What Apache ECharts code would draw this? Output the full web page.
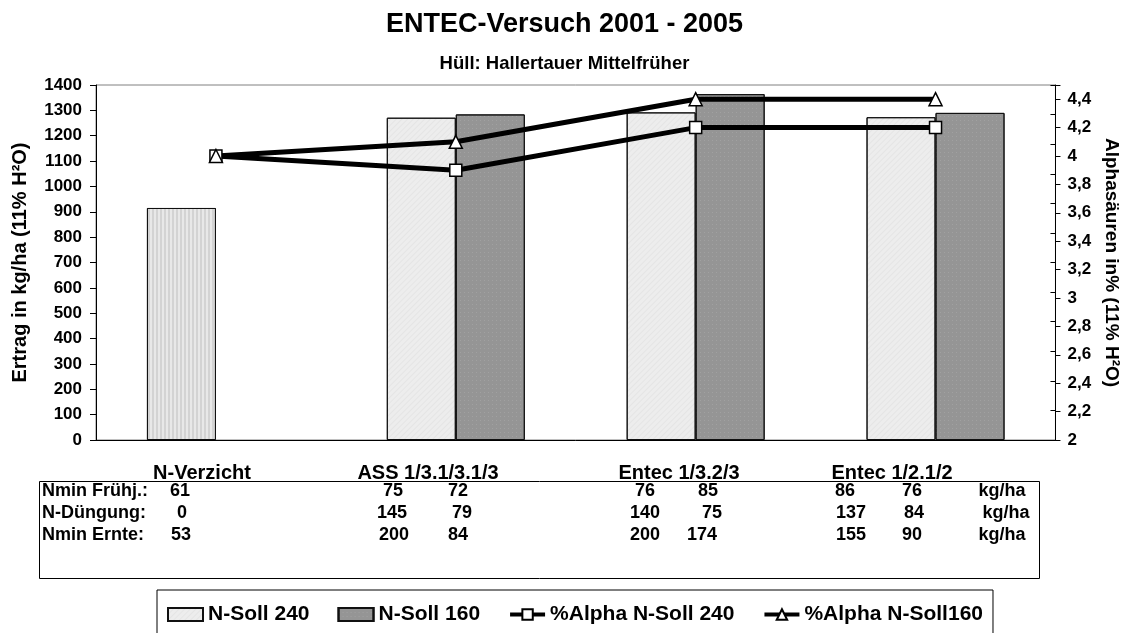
<!DOCTYPE html>
<html>
<head>
<meta charset="utf-8">
<title>ENTEC-Versuch 2001 - 2005</title>
<script src="https://cdn.jsdelivr.net/npm/echarts@6/dist/echarts.min.js"></script>
<style>
html, body { margin: 0; padding: 0; background: #fff; }
#main { width: 1129px; height: 633px; }
</style>
</head>
<body>
<div id="main"></div>
<script>
// Daten
let categories = ['N-Verzicht', 'ASS 1/3.1/3.1/3', 'Entec 1/3.2/3', 'Entec 1/2.1/2'];
let ertragSoll240 = [915, 1271, 1292, 1273];
let ertragSoll160 = ['-', 1284, 1364, 1290];
let alphaSoll240 = [4.0, 3.9, 4.2, 4.2];
let alphaSoll160 = [4.0, 4.1, 4.4, 4.4];

let rowLabels = ['Nmin Frühj.:', 'N-Düngung:', 'Nmin Ernte:'];
let nminFruehj = [61, 75, 72, 76, 85, 86, 76];
let nDuengung = [0, 145, 79, 140, 75, 137, 84];
let nminErnte = [53, 200, 84, 200, 174, 155, 90];
let unitLabel = 'kg/ha';

// Layout
const FONT = '"Liberation Sans", Arial, sans-serif';
const catLabelX = [202, 428, 679, 892];
const rowY = [491, 513, 535];
const colX = [
    [180, 393, 458, 645, 708, 845, 912],
    [182, 392, 462, 645, 712, 851, 914],
    [181, 394, 458, 645, 702, 851, 912]
];
const unitX = [1002, 1006, 1002];

function txt(x, y, text, size, align) {
    return {
        type: 'text', x: x, y: y, silent: true,
        style: {
            text: String(text), fill: '#000',
            font: 'bold ' + size + 'px ' + FONT,
            align: align || 'center', verticalAlign: 'middle'
        }
    };
}

let graphics = [];
categories.forEach(function (c, i) {
    graphics.push(txt(catLabelX[i], 473, c, 20));
});
graphics.push({
    type: 'rect', silent: true,
    shape: { x: 39.5, y: 481.5, width: 1000, height: 97 },
    style: { fill: 'none', stroke: '#000', lineWidth: 1 }
});
[nminFruehj, nDuengung, nminErnte].forEach(function (row, r) {
    graphics.push(txt(42, rowY[r], rowLabels[r], 18, 'left'));
    row.forEach(function (v, k) {
        graphics.push(txt(colX[r][k], rowY[r], v, 18));
    });
    graphics.push(txt(unitX[r], rowY[r], unitLabel, 18));
});

let myChart = echarts.init(document.getElementById('main'));

let labelStyle = { color: '#000', fontWeight: 'bold', fontSize: 17, fontFamily: FONT };

let option = {
    animation: false,
    backgroundColor: '#fff',
    title: [{
        text: 'ENTEC-Versuch 2001 - 2005',
        left: 'center', top: 6,
        textStyle: { color: '#000', fontWeight: 'bold', fontSize: 27, fontFamily: FONT }
    }, {
        text: 'Hüll: Hallertauer Mittelfrüher',
        left: 'center', top: 49,
        textStyle: { color: '#000', fontWeight: 'bold', fontSize: 18.5, fontFamily: FONT }
    }],
    legend: {
        left: 157, top: 590,
        padding: [14, 10, 40, 10],
        borderColor: '#000', borderWidth: 1,
        itemWidth: 35, itemHeight: 13, itemGap: 28,
        lineStyle: { width: 4 },
        textStyle: { color: '#000', fontWeight: 'bold', fontSize: 21, fontFamily: FONT },
        data: [
            { name: 'N-Soll 240', icon: 'rect' },
            { name: 'N-Soll 160', icon: 'rect' },
            '%Alpha N-Soll 240',
            '%Alpha N-Soll160'
        ]
    },
    grid: {
        left: 96, right: 69, top: 85, bottom: 193,
        show: true, borderColor: '#808080', borderWidth: 1
    },
    xAxis: {
        type: 'category',
        data: categories,
        axisLine: { lineStyle: { color: '#000', width: 1 } },
        axisTick: { length: 5, lineStyle: { color: '#000' } },
        axisLabel: { show: false }
    },
    yAxis: [{
        type: 'value', min: 0, max: 1400, interval: 100,
        name: 'Ertrag in kg/ha (11% H²O)',
        nameLocation: 'middle', nameGap: 66,
        nameTextStyle: { color: '#000', fontWeight: 'bold', fontSize: 20, fontFamily: FONT },
        axisLine: { show: true, lineStyle: { color: '#000' } },
        axisTick: { show: true, length: 6, lineStyle: { color: '#000' } },
        axisLabel: Object.assign({
            margin: 14,
            formatter: function (v) { return String(v); }
        }, labelStyle),
        splitLine: { show: false }
    }, {
        type: 'value', min: 2, max: 4.5, interval: 0.2, position: 'right',
        name: 'Alphasäuren in% (11% H²O)',
        nameLocation: 'middle', nameGap: 44, nameRotate: -90,
        nameTextStyle: { color: '#000', fontWeight: 'bold', fontSize: 19, fontFamily: FONT },
        axisLine: { show: true, lineStyle: { color: '#000' } },
        axisTick: { show: true, length: 5, lineStyle: { color: '#000' } },
        axisLabel: Object.assign({
            margin: 12,
            formatter: function (v) {
                if (v > 4.45) return '';
                return String(+v.toFixed(1)).replace('.', ',');
            }
        }, labelStyle),
        splitLine: { show: false }
    }, {
        // innere Striche (Kreuzmarken der rechten Achse)
        type: 'value', min: 2, max: 4.4, interval: 0.2, position: 'right',
        axisLine: { show: false },
        axisTick: { show: true, inside: true, length: 5, lineStyle: { color: '#000' } },
        axisLabel: { show: false },
        splitLine: { show: false }
    }],
    series: [{
        name: 'N-Soll 240',
        type: 'bar',
        barWidth: 69,
        barGap: '0%',
        itemStyle: {
            color: '#ededed', borderColor: '#111', borderWidth: 1,
            decal: {
                symbol: 'rect', symbolSize: 1, color: 'rgba(0,0,0,0.035)',
                dashArrayX: [1, 0], dashArrayY: [1, 3], rotation: -Math.PI / 4
            }
        },
        data: ertragSoll240.map(function (v, i) {
            if (i !== 0) return v;
            return {
                value: v,
                itemStyle: {
                    color: '#e8e8e8',
                    decal: {
                        symbol: 'rect', symbolSize: 1, color: 'rgba(0,0,0,0.09)',
                        dashArrayX: [2, 2], dashArrayY: [4, 0], rotation: 0
                    }
                }
            };
        })
    }, {
        name: 'N-Soll 160',
        type: 'bar',
        barWidth: 69,
        itemStyle: {
            color: '#959595', borderColor: '#111', borderWidth: 1,
            decal: {
                symbol: 'rect', symbolSize: 1, color: 'rgba(255,255,255,0.12)',
                dashArrayX: [1, 3], dashArrayY: [1, 3], rotation: 0
            }
        },
        data: ertragSoll160
    }, {
        name: '%Alpha N-Soll 240',
        type: 'line',
        yAxisIndex: 1,
        symbol: 'rect', symbolSize: 12,
        lineStyle: { color: '#000', width: 5 },
        itemStyle: { color: '#fff', borderColor: '#000', borderWidth: 1.5 },
        data: alphaSoll240
    }, {
        name: '%Alpha N-Soll160',
        type: 'line',
        yAxisIndex: 1,
        symbol: 'triangle', symbolSize: 13,
        lineStyle: { color: '#000', width: 5 },
        itemStyle: { color: '#fff', borderColor: '#000', borderWidth: 1.5 },
        data: alphaSoll160
    }],
    graphic: graphics
};

myChart.setOption(option, true);
</script>
</body>
</html>
